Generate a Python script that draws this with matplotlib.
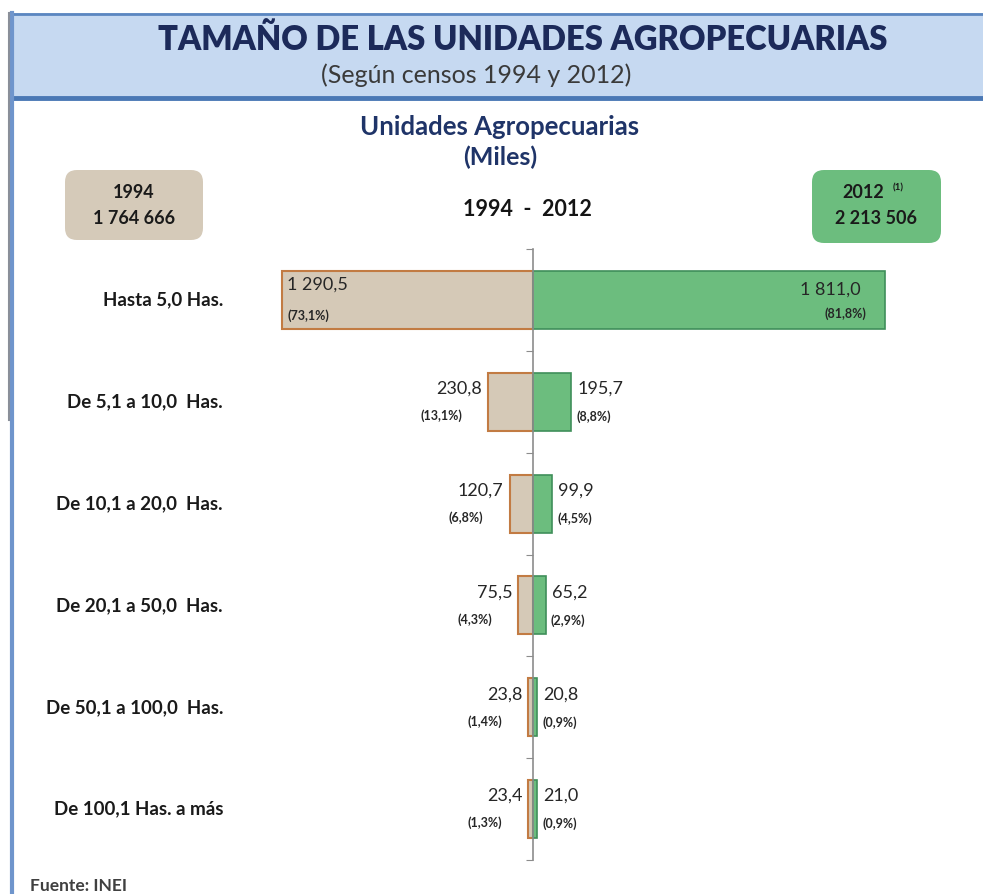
import matplotlib
matplotlib.use('Agg')
import matplotlib.pyplot as plt
from matplotlib.patches import Rectangle, FancyBboxPatch

plt.rcParams['font.family'] = ['Lato', 'DejaVu Sans']

# data (miles de unidades)
categorias = ['Hasta 5,0 Has.', 'De 5,1 a 10,0  Has.', 'De 10,1 a 20,0  Has.',
              'De 20,1 a 50,0  Has.', 'De 50,1 a 100,0  Has.', 'De 100,1 Has. a más']
v1994 = [1290.5, 230.8, 120.7, 75.5, 23.8, 23.4]
v2012 = [1811.0, 195.7, 99.9, 65.2, 20.8, 21.0]
p1994 = [73.1, 13.1, 6.8, 4.3, 1.4, 1.3]
p2012 = [81.8, 8.8, 4.5, 2.9, 0.9, 0.9]
total1994 = '1 764 666'
total2012 = '2 213 506'

W, H = 983, 894
c_tan = '#d5c9b7'
c_tan_edge = '#c27b43'
c_green = '#6cbd7e'
c_green_edge = '#3f8f5a'
navy = '#1c2a5a'
txt = '#262626'


def fmt(v):
    s = f'{v:,.1f}'
    return s.replace(',', ' ').replace('.', ',')


def fpct(p):
    return '(' + f'{p:.1f}'.replace('.', ',') + '%)'


fig = plt.figure(figsize=(W / 100, H / 100), dpi=100)

# main chart axes, centre line at x=533 px
ax = fig.add_axes([133 / W, 34 / H, 800 / W, 611 / H])
ax.barh(range(6), [-v for v in v1994], height=0.57, color=c_tan,
        edgecolor=c_tan_edge, linewidth=1.5)
ax.barh(range(6), v2012, height=0.57, color=c_green,
        edgecolor=c_green_edge, linewidth=1.2)
ax.set_xlim(-2058, 2058)
ax.set_ylim(5.5, -0.5)
for s in ['top', 'right', 'bottom']:
    ax.spines[s].set_visible(False)
ax.spines['left'].set_position(('data', 0))
ax.spines['left'].set_color('#8c8c8c')
ax.spines['left'].set_linewidth(1.2)
ax.set_yticks([i - 0.5 for i in range(7)])
ax.set_yticklabels([])
ax.tick_params(axis='y', direction='out', length=5, color='#8c8c8c')
ax.set_xticks([])

vs, ps = 13, 9
for i in range(6):
    if i == 0:
        ax.annotate(fmt(v1994[i]), (-v1994[i], i), xytext=(5, 15),
                    textcoords='offset pixels', ha='left', va='center',
                    fontsize=vs, color=txt)
        ax.annotate(fpct(p1994[i]), (-v1994[i], i), xytext=(5, -16),
                    textcoords='offset pixels', ha='left', va='center',
                    fontsize=ps, fontweight='bold', color=txt)
        ax.annotate(fmt(v2012[i]), (v2012[i], i), xytext=(-24, 10),
                    textcoords='offset pixels', ha='right', va='center',
                    fontsize=vs, color=txt)
        ax.annotate(fpct(p2012[i]), (v2012[i], i), xytext=(-19, -14),
                    textcoords='offset pixels', ha='right', va='center',
                    fontsize=ps, fontweight='bold', color=txt)
    else:
        ax.annotate(fmt(v1994[i]), (-v1994[i], i), xytext=(-6, 13),
                    textcoords='offset pixels', ha='right', va='center',
                    fontsize=vs, color=txt)
        ax.annotate(fpct(p1994[i]), (-v1994[i], i), xytext=(-26, -14),
                    textcoords='offset pixels', ha='right', va='center',
                    fontsize=ps, fontweight='bold', color=txt)
        ax.annotate(fmt(v2012[i]), (v2012[i], i), xytext=(6, 13),
                    textcoords='offset pixels', ha='left', va='center',
                    fontsize=vs, color=txt)
        ax.annotate(fpct(p2012[i]), (v2012[i], i), xytext=(5, -15),
                    textcoords='offset pixels', ha='left', va='center',
                    fontsize=ps, fontweight='bold', color=txt)
    ax.annotate(categorias[i], (0, i), xycoords=('figure pixels', 'data'),
                xytext=(223, 0), textcoords=('figure pixels', 'offset pixels'),
                ha='right', va='center', fontsize=13.5, fontweight='bold',
                color='#1a1a1a')

# overlay in pixel coordinates for header, boxes and texts
ov = fig.add_axes([0, 0, 1, 1], facecolor='none')
ov.set_xlim(0, W)
ov.set_ylim(H, 0)
ov.axis('off')

ov.add_patch(Rectangle((10, 13), W, 84, facecolor='#c6d9f1', edgecolor='none'))
ov.plot([10, W], [13.5, 13.5], color='#5b86c0', lw=2)
ov.plot([10, W], [97.5, 97.5], color='#4a78b5', lw=3.5)
ov.plot([12, 12], [13, H], color='#6f95cc', lw=3)
ov.plot([9, 9], [13, 420], color='#8a8f99', lw=1.5)

ov.text(523, 40, 'TAMAÑO DE LAS UNIDADES AGROPECUARIAS', ha='center', va='center',
        fontsize=23.6, fontweight='heavy', color=navy)
ov.text(476, 75, '(Según censos 1994 y 2012)', ha='center', va='center',
        fontsize=18, color='#3a3a3a')

ov.text(500, 127, 'Unidades Agropecuarias', ha='center', va='center',
        fontsize=18.5, fontweight='bold', color='#1f3468')
ov.text(500, 157, '(Miles)', ha='center', va='center',
        fontsize=18, fontweight='bold', color='#1f3468')
ov.text(527, 210, '1994  -  2012', ha='center', va='center',
        fontsize=15.5, fontweight='bold', color='#141414')

ov.add_patch(FancyBboxPatch((65, 170), 138, 70, boxstyle='round,pad=0,rounding_size=12',
                            facecolor='#d5cab9', edgecolor='none'))
ov.text(134, 193, '1994', ha='center', va='center', fontsize=13,
        fontweight='bold', color='#1a1a1a')
ov.text(134, 218, total1994, ha='center', va='center', fontsize=13,
        fontweight='bold', color='#1a1a1a')

ov.add_patch(FancyBboxPatch((812, 170), 129, 73, boxstyle='round,pad=0,rounding_size=12',
                            facecolor='#6cbd7e', edgecolor='none'))
ov.text(863, 193, '2012', ha='center', va='center', fontsize=13,
        fontweight='bold', color='#1a1a1a')
ov.text(893, 188, '(1)', ha='left', va='center', fontsize=7,
        fontweight='bold', color='#1a1a1a')
ov.text(876, 218, total2012, ha='center', va='center', fontsize=13,
        fontweight='bold', color='#1a1a1a')

ov.text(30, 886, 'Fuente: INEI', ha='left', va='center', fontsize=12.5,
        fontweight='bold', color='#404040')

fig.savefig('out.png', dpi=100)
